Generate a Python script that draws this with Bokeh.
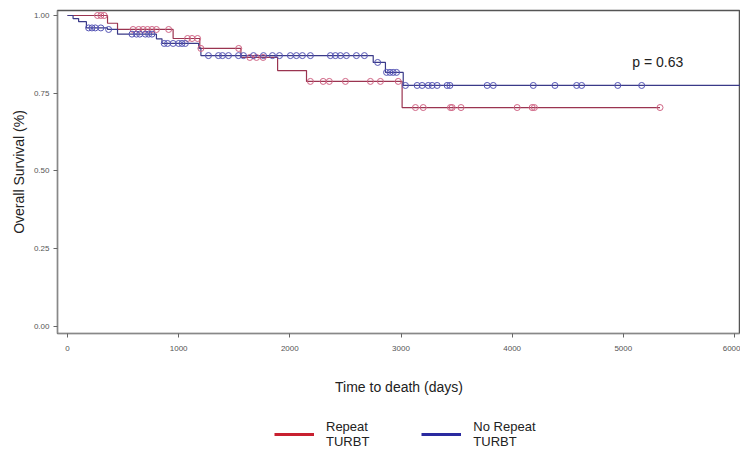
from bokeh.plotting import figure
from bokeh.models import Range1d, NumeralTickFormatter, Label, Legend, LegendItem, FixedTicker
from bokeh.layouts import column
from bokeh.embed import file_html
from bokeh.resources import INLINE

# Kaplan-Meier step data (time in days, survival after event)
repeat_times = [0, 360, 450, 950, 1190, 1560, 1890, 2150, 3010, 5330]
repeat_surv = [1.0, 0.975, 0.955, 0.926, 0.894, 0.865, 0.823, 0.788, 0.704, 0.704]
repeat_censor = [270, 300, 330, 590, 640, 680, 720, 760, 800, 910, 1080, 1120, 1170,
                 1200, 1540, 1640, 1700, 1760, 2185, 2300, 2355, 2500, 2725, 2815, 2975,
                 3130, 3200, 3445, 3460, 3540, 4045, 4180, 4200, 5330]

norepeat_times = [0, 50, 100, 170, 360, 450, 800, 850, 1180, 1200, 2750, 2860, 3020, 6100]
norepeat_surv = [1.0, 0.99, 0.98, 0.96, 0.955, 0.94, 0.925, 0.91, 0.895, 0.871, 0.849,
                 0.817, 0.775, 0.775]
norepeat_censor = [190, 220, 250, 300, 370, 580, 620, 650, 700, 730, 760, 870, 900, 950,
                   1000, 1030, 1060, 1268, 1358, 1394, 1448, 1538, 1583, 1673, 1763, 1844,
                   1907, 2005, 2059, 2113, 2185, 2365, 2410, 2455, 2509, 2599, 2671, 2790,
                   2870, 2900, 2930, 2960, 3040, 3145, 3190, 3245, 3280, 3325, 3415, 3440,
                   3775, 3830, 4190, 4385, 4580, 4625, 4950, 5165]

x_ticks = [0, 1000, 2000, 3000, 4000, 5000, 6000]
y_ticks = [0.0, 0.25, 0.5, 0.75, 1.0]
p_value_text = "p = 0.63"
legend_labels = ["Repeat\nTURBT", "No Repeat\nTURBT"]


def surv_at(times, surv, t):
    s = surv[0]
    for ti, si in zip(times, surv):
        if ti <= t:
            s = si
    return s


p = figure(width=740, height=400, output_backend="svg", toolbar_location=None,
           x_range=Range1d(-90, 6054), y_range=Range1d(-0.0225, 1.016),
           min_border_left=57, min_border_right=0, min_border_top=10, min_border_bottom=67)
p.background_fill_color = "white"
p.border_fill_color = "white"
p.grid.grid_line_color = None
p.outline_line_color = "#555555"
p.outline_line_width = 1.5

red_line = "#9a3450"
red_pt = "#d06585"
blue_line = "#3a3a88"
blue_pt = "#5555b5"

p.step(repeat_times, repeat_surv, mode="after", line_color=red_line, line_width=1.2)
p.step(norepeat_times, norepeat_surv, mode="after", line_color=blue_line, line_width=1.2)

p.scatter(repeat_censor, [surv_at(repeat_times, repeat_surv, t) for t in repeat_censor],
          marker="circle", size=6, line_color=red_pt, fill_color=None, line_width=1)
p.scatter(norepeat_censor, [surv_at(norepeat_times, norepeat_surv, t) for t in norepeat_censor],
          marker="circle", size=6, line_color=blue_pt, fill_color=None, line_width=1)

p.add_layout(Label(x=5080, y=0.85, text=p_value_text, text_font="Liberation Sans",
                   text_font_size="14px", text_color="#222222", text_baseline="middle"))

for ax in (p.xaxis, p.yaxis):
    ax.axis_line_color = "#888888"
    ax.major_tick_line_color = "#666666"
    ax.major_tick_out = 4
    ax.major_tick_in = 0
    ax.minor_tick_line_color = None
    ax.major_label_text_font = "Liberation Sans"
    ax.major_label_text_font_size = "8px"
    ax.major_label_text_color = "#555555"
    ax.axis_label_text_font = "Liberation Sans"
    ax.axis_label_text_font_size = "14px"
    ax.axis_label_text_font_style = "normal"
    ax.axis_label_text_color = "#222222"

p.xaxis.ticker = FixedTicker(ticks=x_ticks)
p.yaxis.ticker = FixedTicker(ticks=y_ticks)
p.yaxis.formatter = NumeralTickFormatter(format="0.00")
p.xaxis.major_label_standoff = 8
p.xaxis.axis_label = "Time to death (days)"
p.xaxis.axis_label_standoff = 25
p.yaxis.axis_label = "Overall Survival (%)"
p.yaxis.major_label_standoff = 4
p.yaxis.axis_label_standoff = 4

# legend panel below the plot
lf = figure(width=740, height=50, output_backend="svg", toolbar_location=None,
            x_range=Range1d(0, 1), y_range=Range1d(0, 1),
            min_border=0, outline_line_color=None)
lf.axis.visible = False
lf.grid.grid_line_color = None
l1 = lf.line([0], [0], line_color="#c82030", line_width=3)
l2 = lf.line([0], [0], line_color="#2a2aa0", line_width=3)
l1.visible = False
l2.visible = False
leg = Legend(items=[LegendItem(label=legend_labels[0], renderers=[l1]),
                    LegendItem(label=legend_labels[1], renderers=[l2])],
             orientation="horizontal", location=(217, 1),
             glyph_width=40, label_standoff=12, spacing=52,
             label_text_font="Liberation Sans", label_text_font_size="13px",
             label_text_color="#222222", border_line_color=None,
             background_fill_alpha=0, padding=2, margin=0)
lf.add_layout(leg, "center")

open("out.html", "w").write(file_html(column(p, lf, spacing=0), INLINE))
